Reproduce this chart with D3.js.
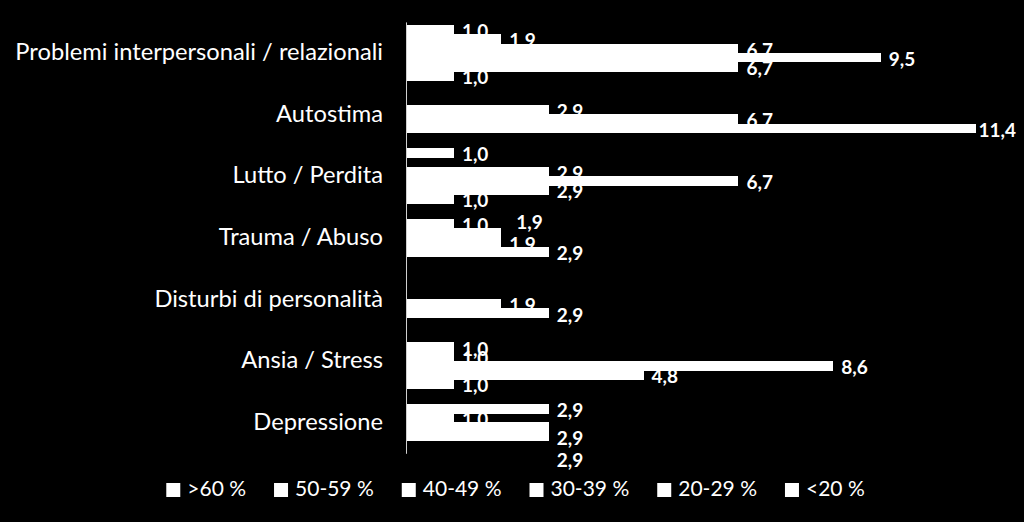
<!DOCTYPE html>
<html><head><meta charset="utf-8">
<script src="https://cdn.jsdelivr.net/npm/d3@7"></script>
<style>html,body{margin:0;padding:0;background:#000;} svg{display:block;}</style>
</head><body><svg id="c" width="1024" height="522"></svg>
<script>
// ---- data ----
const categories = ["Problemi interpersonali / relazionali", "Autostima", "Lutto / Perdita",
  "Trauma / Abuso", "Disturbi di personalità", "Ansia / Stress", "Depressione"];
const seriesNames = [">60 %", "50-59 %", "40-49 %", "30-39 %", "20-29 %", "<20 %"];
const valsOver60  = [0.952, null, 0.952, null, null, 0.952, null];
const vals50to59  = [6.667, 11.429, 2.857, 2.857, 2.857, 4.762, 2.857];
const vals40to49  = [9.524, 6.667, 6.667, 1.905, 1.905, 8.571, 2.857];
const vals30to39  = [6.667, 2.857, 2.857, 1.905, null, 0.952, 0.952];
const vals20to29  = [1.905, null, null, 0.952, null, 0.952, 2.857];
const valsUnder20 = [0.952, null, 0.952, null, null, null, null];
const seriesValues = [valsOver60, vals50to59, vals40to49, vals30to39, vals20to29, valsUnder20];
const xDomain = [0, 12];
// manual label displacements (as in the original)
const labelNudges = {"Trauma / Abuso|30-39 %": [7, -12.5], "Depressione|40-49 %": [0, 31.5]};

// ---- layout ----
const W = 1024, H = 522;
const FONT = "Lato, 'Open Sans', sans-serif";
const svg = d3.select("#c");
svg.append("rect").attr("width", W).attr("height", H).attr("fill", "#000");

const x = d3.scaleLinear().domain(xDomain).range([406.5, 1004]);
const y0 = d3.scaleBand().domain(categories).range([21.9, 453.3]).paddingInner(0.104).paddingOuter(0.052);
const slotOrder = seriesNames.slice().reverse(); // first series at bottom of each group
const y1 = d3.scaleBand().domain(slotOrder).range([0, y0.bandwidth()]);

const recs = [];
seriesNames.forEach((s, si) => {
  categories.forEach((c, ci) => {
    const v = seriesValues[si][ci];
    if (v != null) recs.push({cat: c, ser: s, v});
  });
});

const fmt = v => d3.format(".1f")(v).replace(".", ",");

// data labels (drawn under bars)
const lg = svg.append("g").attr("font-family", FONT).attr("font-weight", "bold")
  .attr("font-size", 19).attr("fill", "#fff");
recs.forEach(d => {
  const cy = y0(d.cat) + y1(d.ser) + y1.bandwidth() / 2;
  const nudge = labelNudges[d.cat + "|" + d.ser] || [0, 0];
  const t = lg.append("text").text(fmt(d.v))
    .attr("x", x(d.v) + 8 + nudge[0]).attr("y", cy + 8.5 + nudge[1]);
  const w = t.node().getComputedTextLength();
  if (+t.attr("x") + w > 1016) t.attr("x", 1016 - w);
});

// bars
svg.append("g").attr("shape-rendering", "crispEdges")
  .selectAll("rect").data(recs).join("rect")
  .attr("x", x(0))
  .attr("y", d => y0(d.cat) + y1(d.ser))
  .attr("width", d => x(d.v) - x(0))
  .attr("height", y1.bandwidth() + 0.5)
  .attr("fill", "#fff");

// category axis
const ax = svg.append("g").attr("transform", "translate(406,0)")
  .call(d3.axisLeft(y0).tickSize(0).tickSizeOuter(0).tickPadding(23));
ax.select(".domain").attr("stroke", "#d0d0d0").attr("stroke-width", 1);
ax.selectAll("text").attr("fill", "#fff").attr("font-family", FONT).attr("font-size", 23.7)
  .attr("dy", null).attr("y", 7.5);

// legend
const leg = svg.append("g").attr("font-family", FONT).attr("font-size", 21).attr("fill", "#fff");
const items = seriesNames.map(s => {
  const g = leg.append("g");
  g.append("rect").attr("width", 14).attr("height", 14).attr("y", 483).attr("fill", "#fff");
  const t = g.append("text").text(s).attr("x", 21).attr("y", 496);
  return {g, w: 21 + t.node().getComputedTextLength()};
});
const total = d3.sum(items, d => d.w) + 28 * (items.length - 1);
let cx = 515.5 - total / 2;
items.forEach(it => { it.g.attr("transform", `translate(${cx},0)`); cx += it.w + 28; });
</script>
</body></html>
